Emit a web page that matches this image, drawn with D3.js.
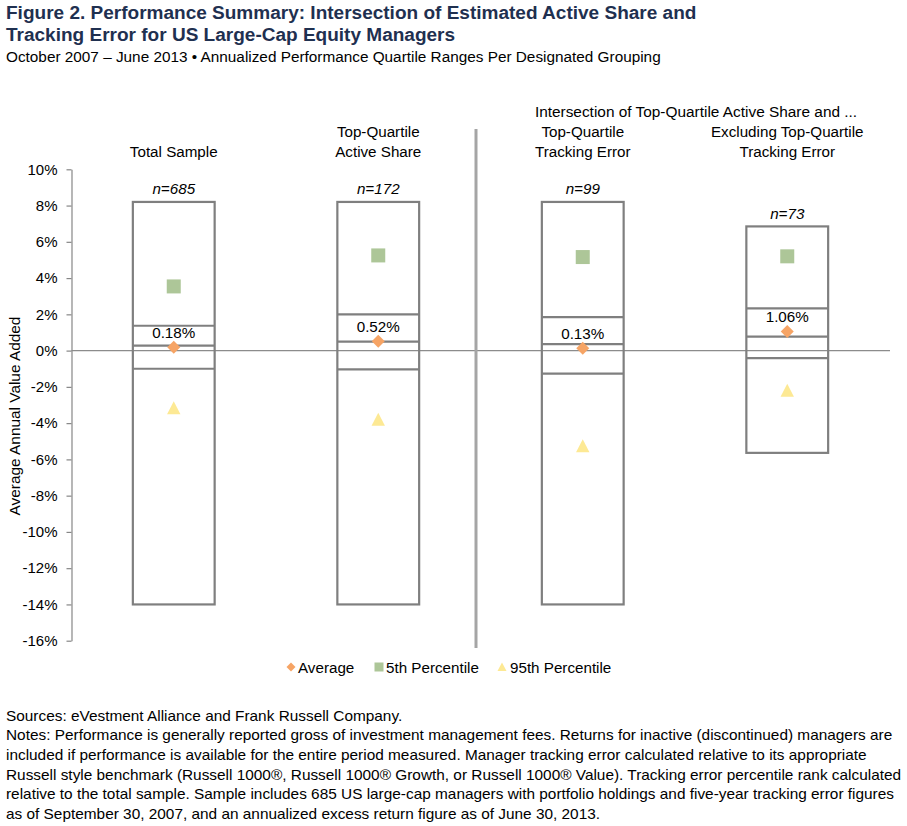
<!DOCTYPE html>
<html><head><meta charset="utf-8">
<script src="https://cdn.jsdelivr.net/npm/d3@7"></script>
<style>
body{margin:0;background:#fff}
svg{display:block}
text{font-family:"Liberation Sans",Arial,Helvetica,sans-serif}
</style>
</head><body>
<svg id="chart" width="907" height="826"></svg>
<script>
// ---------- data ----------
const categories = ["Total Sample", "Top-Quartile Active Share", "Top-Quartile Tracking Error", "Excluding Top-Quartile Tracking Error"];
const headerLines = [["Total Sample"], ["Top-Quartile", "Active Share"], ["Top-Quartile", "Tracking Error"], ["Excluding Top-Quartile", "Tracking Error"]];
const groupHeader = "Intersection of Top-Quartile Active Share and ...";
const sampleSizes = ["n=685", "n=172", "n=99", "n=73"];
const maxValues = [8.2, 8.2, 8.2, 6.85];
const q1Values = [1.37, 2.0, 1.85, 2.33];
const medianValues = [0.27, 0.49, 0.36, 0.77];
const q3Values = [-1.0, -1.03, -1.27, -0.42];
const minValues = [-14.0, -14.0, -14.0, -5.64];
const averageValues = [0.18, 0.52, 0.13, 1.06];
const pct5Values = [3.54, 5.25, 5.16, 5.2];
const pct95Values = [-3.16, -3.8, -5.26, -2.2];
const yTicks = [10, 8, 6, 4, 2, 0, -2, -4, -6, -8, -10, -12, -14, -16];
const legendItems = ["Average", "5th Percentile", "95th Percentile"];

const titleLines = ["Figure 2. Performance Summary: Intersection of Estimated Active Share and",
                    "Tracking Error for US Large-Cap Equity Managers"];
const subtitle = "October 2007 \u2013 June 2013 \u2022 Annualized Performance Quartile Ranges Per Designated Grouping";
const noteLines = [
  "Sources: eVestment Alliance and Frank Russell Company.",
  "Notes: Performance is generally reported gross of investment management fees. Returns for inactive (discontinued) managers are",
  "included if performance is available for the entire period measured. Manager tracking error calculated relative to its appropriate",
  "Russell style benchmark (Russell 1000\u00AE, Russell 1000\u00AE Growth, or Russell 1000\u00AE Value). Tracking error percentile rank calculated",
  "relative to the total sample. Sample includes 685 US large-cap managers with portfolio holdings and five-year tracking error figures",
  "as of September 30, 2007, and an annualized excess return figure as of June 30, 2013."
];

// ---------- styles ----------
const C = {
  box: "#7f7f7f", axis: "#868686", zero: "#8c8c8c", divider: "#a5a5a5",
  avg: "#f6a465", p5: "#adc698", p95: "#fde994", title: "#1f3050", text: "#000"
};
const FS = 15.2;

const svg = d3.select("#chart");

function fitWidth(sel, w) {
  const L = sel.node().getComputedTextLength();
  const fs = parseFloat(sel.attr("font-size"));
  sel.attr("font-size", (fs * w / L).toFixed(3));
  return fs * w / L;
}

// ---------- titles ----------
const t1 = svg.append("text").attr("x", 6).attr("y", 18.5).attr("font-size", 18).attr("font-weight", "bold")
  .attr("fill", C.title).text(titleLines[0]);
const tfs = fitWidth(t1, 691);
svg.append("text").attr("x", 6).attr("y", 40.5).attr("font-size", tfs).attr("font-weight", "bold")
  .attr("fill", C.title).text(titleLines[1]);
const st = svg.append("text").attr("x", 6).attr("y", 62).attr("font-size", 14).attr("fill", C.text).text(subtitle);
fitWidth(st, 655);

// ---------- scales ----------
const y = d3.scaleLinear().domain([-16, 10]).range([640.7, 169.3]);
const x = d3.scaleBand().domain(categories).range([71.5, 889.5]).paddingInner(0.6).paddingOuter(0.3);
const cx = d => x(d) + x.bandwidth() / 2;

// ---------- axis ----------
const yAxis = d3.axisLeft(y).tickValues(yTicks).tickSize(5).tickSizeOuter(0).tickPadding(9)
  .tickFormat(d => d + "%");
const ag = svg.append("g").attr("transform", "translate(71.5,0)").call(yAxis);
ag.select(".domain").attr("stroke", C.axis).attr("stroke-width", 1.2);
ag.selectAll(".tick line").attr("stroke", C.axis).attr("stroke-width", 1.2);
ag.selectAll(".tick text").attr("font-size", 15).attr("fill", C.text)
  .attr("font-family", "\"Liberation Sans\",Arial,sans-serif");

svg.append("text").attr("transform", "translate(20,416) rotate(-90)").attr("text-anchor", "middle")
  .attr("font-size", 15.4).attr("fill", C.text).text("Average Annual Value Added");

// ---------- zero line ----------
svg.append("line").attr("x1", 71.5).attr("x2", 890).attr("y1", y(0)).attr("y2", y(0))
  .attr("stroke", C.zero).attr("stroke-width", 1.2);

// ---------- divider ----------
svg.append("line").attr("x1", 476).attr("x2", 476).attr("y1", 129).attr("y2", 648)
  .attr("stroke", C.divider).attr("stroke-width", 3);

// ---------- boxes ----------
const rows = categories.map((c, i) => ({
  c, i, max: maxValues[i], q1: q1Values[i], med: medianValues[i], q3: q3Values[i], min: minValues[i],
  avg: averageValues[i], p5: pct5Values[i], p95: pct95Values[i], n: sampleSizes[i], head: headerLines[i]
}));

const bg = svg.append("g");
rows.forEach(r => {
  const x0 = x(r.c), w = x.bandwidth();
  bg.append("rect").attr("x", x0).attr("y", y(r.max)).attr("width", w).attr("height", y(r.min) - y(r.max))
    .attr("fill", "none").attr("stroke", C.box).attr("stroke-width", 2.2);
  [r.q1, r.med, r.q3].forEach(v => {
    bg.append("line").attr("x1", x0).attr("x2", x0 + w).attr("y1", y(v)).attr("y2", y(v))
      .attr("stroke", C.box).attr("stroke-width", 2.2);
  });
  // n label
  bg.append("text").attr("x", cx(r.c)).attr("y", y(r.max) - 7.5).attr("text-anchor", "middle")
    .attr("font-size", FS).attr("font-style", "italic").attr("fill", C.text).text(r.n);
  // header
  const hl = r.head;
  hl.forEach((line, k) => {
    bg.append("text").attr("x", cx(r.c)).attr("y", 156.5 - (hl.length - 1 - k) * 19.5).attr("text-anchor", "middle")
      .attr("font-size", FS).attr("fill", C.text).text(line);
  });
});

// group header
svg.append("text").attr("x", (cx(categories[2]) + cx(categories[3])) / 2 + 11).attr("y", 117)
  .attr("text-anchor", "middle").attr("font-size", 15.4).attr("fill", C.text).text(groupHeader);

// ---------- markers ----------
const mg = svg.append("g");
rows.forEach(r => {
  const xc = cx(r.c);
  // 5th percentile square
  mg.append("rect").attr("x", xc - 7).attr("y", y(r.p5) - 7).attr("width", 14).attr("height", 14).attr("fill", C.p5);
  // 95th percentile triangle
  mg.append("path").attr("transform", `translate(${xc},${y(r.p95)})`)
    .attr("d", "M0,-6.7L6.7,6.3L-6.7,6.3Z").attr("fill", C.p95);
  // average diamond
  mg.append("path").attr("transform", `translate(${xc},${y(r.avg)})`)
    .attr("d", "M0,-6.5L6.5,0L0,6.5L-6.5,0Z").attr("fill", C.avg);
  // average label
  mg.append("text").attr("x", xc).attr("y", y(r.avg) - 9).attr("text-anchor", "middle")
    .attr("font-size", FS).attr("fill", C.text).text(r.avg.toFixed(2) + "%");
});

// ---------- legend ----------
const lg = svg.append("g");
const ly = 667;
lg.append("path").attr("transform", `translate(291,${ly})`).attr("d", "M0,-4.5L4.5,0L0,4.5L-4.5,0Z").attr("fill", C.avg);
lg.append("text").attr("x", 298).attr("y", ly + 5.5).attr("font-size", FS).attr("fill", C.text).text(legendItems[0]);
lg.append("rect").attr("x", 374.5).attr("y", ly - 4.5).attr("width", 9).attr("height", 9).attr("fill", C.p5);
lg.append("text").attr("x", 386).attr("y", ly + 5.5).attr("font-size", FS).attr("fill", C.text).text(legendItems[1]);
lg.append("path").attr("transform", `translate(502,${ly})`).attr("d", "M0,-4.5L4.5,4L-4.5,4Z").attr("fill", C.p95);
lg.append("text").attr("x", 510).attr("y", ly + 5.5).attr("font-size", FS).attr("fill", C.text).text(legendItems[2]);

// ---------- notes ----------
const nodes = noteLines.map((t, i) => svg.append("text").attr("x", 6).attr("y", 720.7 + i * 19.6)
  .attr("font-size", 13).attr("fill", C.text).text(t));
const targets = [399, 886, 860, 896, 887];
let meas = 0, tgt = 0;
targets.forEach((w, i) => { meas += nodes[i].node().getComputedTextLength(); tgt += w; });
const nfs = 13 * tgt / meas;
nodes.forEach(n => n.attr("font-size", nfs.toFixed(3)));
</script>
</body></html>
